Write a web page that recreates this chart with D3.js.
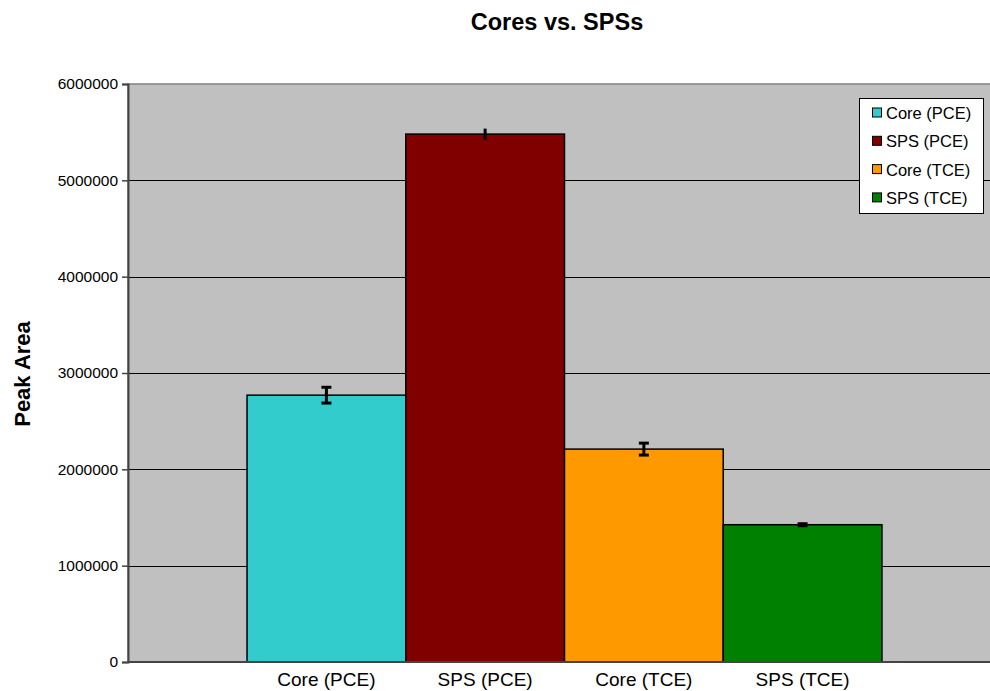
<!DOCTYPE html>
<html>
<head>
<meta charset="utf-8">
<script src="https://cdn.jsdelivr.net/npm/d3@7"></script>
<style>
  body { margin: 0; background: #fff; }
  svg { display: block; font-family: "Liberation Sans", Arial, sans-serif; }
</style>
</head>
<body>
<svg id="chart" width="990" height="691"></svg>
<script>
// chart data
const categories = ["Core (PCE)", "SPS (PCE)", "Core (TCE)", "SPS (TCE)"];
const values = [2770000, 5480000, 2210000, 1425000];
const errors = [82000, 57000, 62000, 20000];
const colors = ["#33CCCC", "#800000", "#FF9900", "#008000"];
const yTicks = [0, 1000000, 2000000, 3000000, 4000000, 5000000, 6000000];

const svg = d3.select("#chart");
const plot = { left: 128, right: 1001, top: 84, bottom: 662 };

// plot area background
svg.append("rect")
  .attr("x", plot.left).attr("y", plot.top)
  .attr("width", plot.right - plot.left)
  .attr("height", plot.bottom - plot.top)
  .attr("fill", "#C0C0C0")
  .attr("stroke", "#808080")
  .attr("stroke-width", 1.5);

const x = d3.scaleBand()
  .domain(categories)
  .range([plot.left, plot.right])
  .paddingInner(0)
  .paddingOuter(0.75);

const y = d3.scaleLinear()
  .domain([0, 6000000])
  .range([plot.bottom, plot.top]);

// gridlines
svg.append("g")
  .selectAll("line")
  .data(yTicks.filter((d) => d > 0 && d < 6000000))
  .join("line")
  .attr("x1", plot.left).attr("x2", plot.right)
  .attr("y1", (d) => Math.round(y(d)) + 0.5)
  .attr("y2", (d) => Math.round(y(d)) + 0.5)
  .attr("stroke", "#000")
  .attr("stroke-width", 1);

// bars
svg.append("g")
  .selectAll("rect")
  .data(categories)
  .join("rect")
  .attr("x", (d) => x(d))
  .attr("y", (d, i) => y(values[i]))
  .attr("width", x.bandwidth())
  .attr("height", (d, i) => plot.bottom - y(values[i]))
  .attr("fill", (d, i) => colors[i])
  .attr("stroke", "#000")
  .attr("stroke-width", 1.5);

// error bars (caps only where the reference shows them)
const caps = [true, false, true, true];
const eb = svg.append("g").attr("stroke", "#000").attr("stroke-width", 3);
categories.forEach((c, i) => {
  const cx = x(c) + x.bandwidth() / 2;
  const y1 = y(values[i] + errors[i]);
  const y2 = y(values[i] - errors[i]);
  eb.append("line").attr("x1", cx).attr("x2", cx).attr("y1", y1).attr("y2", y2);
  if (!caps[i]) return;
  if (errors[i] > 40000) {
    eb.append("line").attr("x1", cx - 5).attr("x2", cx + 5).attr("y1", y1).attr("y2", y1);
    eb.append("line").attr("x1", cx - 5).attr("x2", cx + 5).attr("y1", y2).attr("y2", y2);
  } else {
    eb.append("line").attr("x1", cx - 5).attr("x2", cx + 5).attr("y1", y(values[i])).attr("y2", y(values[i])).attr("stroke-width", 5);
  }
});

// y axis
const yAxis = svg.append("g")
  .attr("transform", `translate(${plot.left},0)`)
  .call(d3.axisLeft(y).tickValues(yTicks).tickFormat(d3.format("d")).tickSize(6).tickPadding(4));
yAxis.select(".domain").attr("stroke", "#444").attr("stroke-width", 2);
yAxis.selectAll(".tick line").attr("stroke", "#444").attr("stroke-width", 1.5);
yAxis.selectAll(".tick text")
  .attr("font-size", "15.5px")
  .attr("font-family", "Liberation Sans, Arial, sans-serif")
  .attr("fill", "#000");

// bottom axis line
svg.append("line")
  .attr("x1", plot.left).attr("x2", plot.right)
  .attr("y1", plot.bottom).attr("y2", plot.bottom)
  .attr("stroke", "#444").attr("stroke-width", 2);

// x labels
svg.append("g")
  .selectAll("text")
  .data(categories)
  .join("text")
  .attr("x", (d) => x(d) + x.bandwidth() / 2)
  .attr("y", 686)
  .attr("text-anchor", "middle")
  .attr("font-size", "19px")
  .text((d) => d);

// title
svg.append("text")
  .attr("x", 557).attr("y", 30)
  .attr("text-anchor", "middle")
  .attr("font-size", "23.5px")
  .attr("font-weight", "bold")
  .text("Cores vs. SPSs");

// y axis label
svg.append("text")
  .attr("transform", "translate(30,374) rotate(-90)")
  .attr("text-anchor", "middle")
  .attr("font-size", "22px")
  .attr("font-weight", "bold")
  .text("Peak Area");

// legend
const legend = svg.append("g");
legend.append("rect")
  .attr("x", 859.5).attr("y", 98.5)
  .attr("width", 124).attr("height", 115)
  .attr("fill", "#fff").attr("stroke", "#000").attr("stroke-width", 1);
categories.forEach((c, i) => {
  const cy = 113 + i * 28.3;
  legend.append("rect")
    .attr("x", 872.5).attr("y", cy - 5)
    .attr("width", 9).attr("height", 9)
    .attr("fill", colors[i]).attr("stroke", "#000").attr("stroke-width", 1);
  legend.append("text")
    .attr("x", 886).attr("y", cy + 6)
    .attr("font-size", "16.5px")
    .text(c);
});
</script>
</body>
</html>
